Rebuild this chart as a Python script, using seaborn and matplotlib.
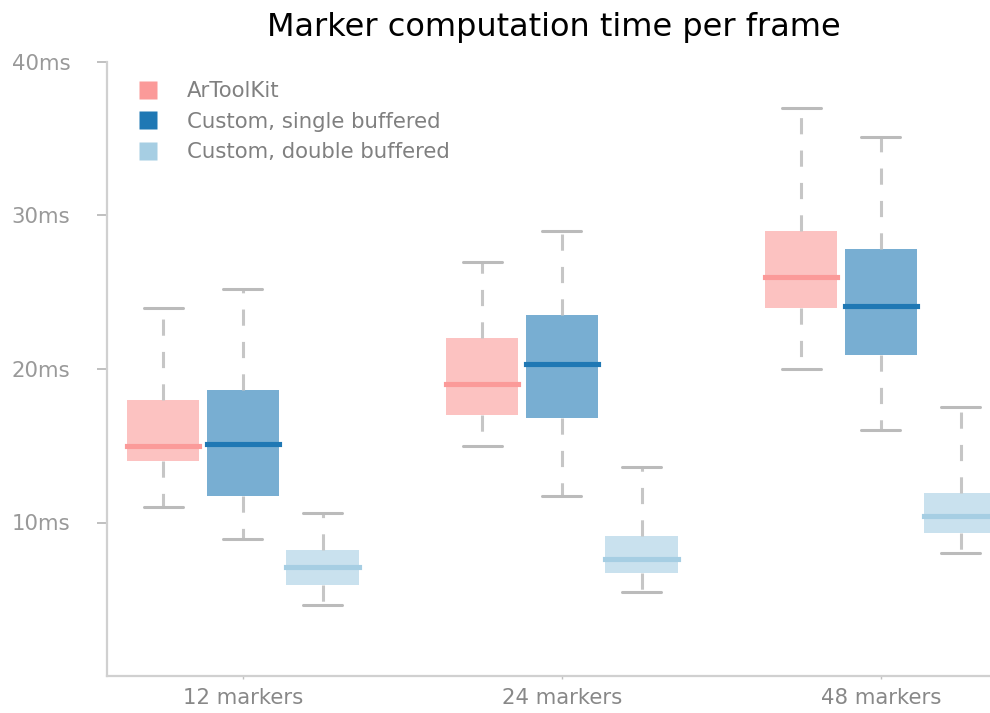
import numpy as np
import pandas as pd
import matplotlib
matplotlib.use("Agg")
import matplotlib.pyplot as plt
from matplotlib.colors import to_rgba
from matplotlib.lines import Line2D
from matplotlib.ticker import FuncFormatter
import seaborn as sns

categories = ["12 markers", "24 markers", "48 markers"]
series = ["ArToolKit", "Custom, single buffered", "Custom, double buffered"]
colors = ["#fb9a99", "#1f78b4", "#a6cee3"]

# Five-number summaries per marker count (ms):
# lower whisker, Q1, median, Q3, upper whisker
artoolkit = [
    [11.0, 14.0, 15.0, 18.0, 24.0],
    [15.0, 17.0, 19.0, 22.0, 27.0],
    [20.0, 24.0, 26.0, 29.0, 37.0],
]
single_buffered = [
    [8.9, 11.7, 15.1, 18.6, 25.2],
    [11.7, 16.8, 20.3, 23.5, 29.0],
    [16.0, 20.9, 24.1, 27.8, 35.1],
]
double_buffered = [
    [4.6, 5.9, 7.1, 8.2, 10.6],
    [5.5, 6.7, 7.6, 9.1, 13.6],
    [8.0, 9.3, 10.4, 11.9, 17.5],
]

rows = []
for name, summaries in zip(series, [artoolkit, single_buffered, double_buffered]):
    for cat, vals in zip(categories, summaries):
        for v in vals:
            rows.append({"markers": cat, "method": name, "ms": v})
df = pd.DataFrame(rows)

sns.set_style("white")
plt.rcParams["font.family"] = ["DejaVu Sans"]

fig = plt.figure(figsize=(9.9, 7.13), dpi=100)
ax = fig.add_axes([107 / 990, 37 / 713, 883 / 990, 614 / 713])

sns.boxplot(
    data=df, x="markers", y="ms", hue="method",
    order=categories, hue_order=series, palette=colors, saturation=1,
    whis=(0, 100), width=0.75, gap=0.09, showfliers=False,
    linewidth=2.2, capwidths=0.122, legend=False, ax=ax,
)

whisker_gray = "#c6c6c6"
cap_gray = "#bbbbbb"
for container, col in zip(ax.containers, colors):
    for box in container.boxes:
        box.set_facecolor(to_rgba(col, 0.6))
        box.set_edgecolor("none")
        box.set_linewidth(0)
    for med in container.medians:
        med.set_color(col)
        med.set_linewidth(3.7)
        med.set_solid_capstyle("projecting")
        med.set_zorder(5)
    for wh in container.whiskers:
        wh.set_color(whisker_gray)
        wh.set_linewidth(2.2)
        wh.set_linestyle((0, (5.3, 5.3)))
    for cap in container.caps:
        cap.set_color(cap_gray)
        cap.set_linewidth(2.2)

ax.set_xlim(-0.426, 2.342)
ax.set_ylim(0, 40)
ax.set_yticks([10, 20, 30, 40])
ax.yaxis.set_major_formatter(FuncFormatter(lambda v, _: f"{int(v)}ms"))
ax.set_xlabel("")
ax.set_ylabel("")

for side in ["top", "right"]:
    ax.spines[side].set_visible(False)
for side in ["left", "bottom"]:
    ax.spines[side].set_color("#d0d0d0")
    ax.spines[side].set_linewidth(1.6)

ax.tick_params(axis="y", length=7.5, width=1.4, color="#c0c0c0",
               labelcolor="#999999", labelsize=15.3, pad=19, left=True)
ax.tick_params(axis="x", length=2, width=1, color="#c0c0c0",
               labelcolor="#888888", labelsize=15.3, pad=6.5, bottom=True)

ax.set_title("Marker computation time per frame", fontsize=23, color="black",
             pad=19, x=0.506)

handles = [Line2D([], [], marker="s", linestyle="", markersize=12.5,
                  markerfacecolor=c, markeredgecolor="none") for c in colors]
ax.legend(handles, series, loc="upper left", bbox_to_anchor=(0.0227, 0.9685),
          frameon=False, fontsize=15.3, labelcolor="#808080",
          handlelength=2, handletextpad=0.8, labelspacing=0.49,
          borderpad=0, borderaxespad=0)

fig.savefig("out.png", dpi=100)
